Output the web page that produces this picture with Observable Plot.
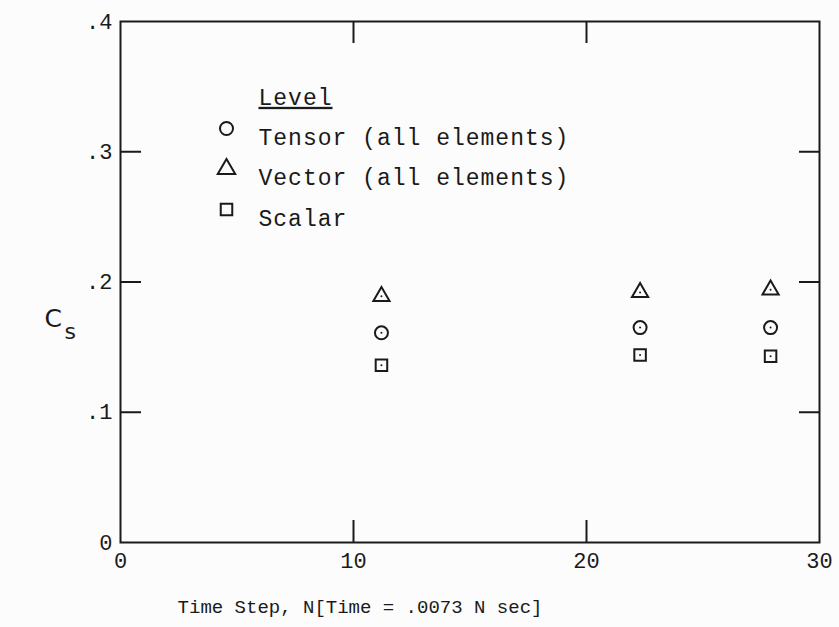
<!DOCTYPE html>
<html>
<head>
<meta charset="utf-8">
<script src="https://cdn.jsdelivr.net/npm/d3@7"></script>
<script src="https://cdn.jsdelivr.net/npm/@observablehq/plot@0.6"></script>
<style>
  html, body { margin: 0; padding: 0; background: #fcfcfc; }
  #chart svg { display: block; }
</style>
</head>
<body>
<div id="chart"></div>
<script>
// Time step N for each sample
const steps = [11.2, 22.3, 27.9];
// C_s values per level
const tensor = [0.161, 0.165, 0.165];
const vector = [0.189, 0.192, 0.194];
const scalar = [0.136, 0.144, 0.143];
// axis ticks
const xTicks = [0, 10, 20, 30];
const yTicks = [0, 0.1, 0.2, 0.3, 0.4];
const yTickLabels = ["0", ".1", ".2", ".3", ".4"];
const innerXTicks = [10, 20];
const innerYTicks = [0.1, 0.2, 0.3];
// legend
const legendTitle = "Level";
const legendItems = ["Tensor (all elements)", "Vector (all elements)", "Scalar"];
const legendSymbols = ["circle", "triangle", "square"];
const xTitle = "Time Step, N[Time = .0073 N sec]";

const tensorData = steps.map((n, i) => ({n, v: tensor[i]}));
const vectorData = steps.map((n, i) => ({n, v: vector[i]}));
const scalarData = steps.map((n, i) => ({n, v: scalar[i]}));
const allData = [...tensorData, ...vectorData, ...scalarData];

const font = "'Liberation Mono', 'DejaVu Sans Mono', monospace";
const ink = "#1a1a1a";

const legendMarks = legendItems.flatMap((label, i) => [
  Plot.dot([legendSymbols[i]], {frameAnchor: "top-left", dx: 106, dy: 107 + 40.5 * i, symbol: d => d, r: 6.5, stroke: ink, strokeWidth: 2, fill: "none"}),
  Plot.text([label], {frameAnchor: "top-left", dx: 138, dy: 107 + 40.5 * i, text: d => d, textAnchor: "start", fontSize: 23, fill: ink, fontFamily: font, className: "legend-text"})
]);

const chart = Plot.plot({
  width: 839,
  height: 627,
  marginLeft: 120,
  marginRight: 20,
  marginTop: 21,
  marginBottom: 85,
  style: {background: "#fcfcfc", fontFamily: font, color: ink},
  x: {domain: [0, 30], label: null},
  y: {domain: [0, 0.4], label: null},
  marks: [
    Plot.frame({stroke: ink, strokeWidth: 2}),
    // inward ticks
    Plot.axisY(innerYTicks, {anchor: "left", tickSize: -21, tickPadding: 0, tickFormat: () => "", stroke: ink, strokeWidth: 2, label: null}),
    Plot.axisY(innerYTicks, {anchor: "right", tickSize: -21, tickPadding: 0, tickFormat: () => "", stroke: ink, strokeWidth: 2, label: null}),
    Plot.axisX(innerXTicks, {anchor: "bottom", tickSize: -22, tickPadding: 0, tickFormat: () => "", stroke: ink, strokeWidth: 2, label: null}),
    Plot.axisX(innerXTicks, {anchor: "top", tickSize: -21, tickPadding: 0, tickFormat: () => "", stroke: ink, strokeWidth: 2, label: null}),
    // tick labels
    Plot.axisY(yTicks, {anchor: "left", tickSize: 0, tickPadding: 8, tickFormat: (d, i) => yTickLabels[i], fontSize: 22, fill: ink, label: null}),
    Plot.axisX(xTicks, {anchor: "bottom", tickSize: 0, tickPadding: 10, fontSize: 22, fill: ink, label: null}),
    // axis titles
    Plot.text([xTitle], {frameAnchor: "bottom", dx: -110, dy: 70, text: d => d, fontSize: 19, fill: ink, fontFamily: font}),
    Plot.text(["C"], {frameAnchor: "left", dx: -76, dy: 37, text: d => d, fontSize: 25, fill: ink, fontFamily: "'DejaVu Sans', sans-serif"}),
    Plot.text(["s"], {frameAnchor: "left", dx: -56, dy: 50, text: d => d, fontSize: 22, fill: ink, fontFamily: "'DejaVu Sans', sans-serif"}),
    // data
    Plot.dot(tensorData, {x: "n", y: "v", symbol: "circle", r: 6.5, stroke: ink, strokeWidth: 2, fill: "none"}),
    Plot.dot(vectorData, {x: "n", y: "v", symbol: "triangle", r: 6, stroke: ink, strokeWidth: 2, fill: "none"}),
    Plot.dot(scalarData, {x: "n", y: "v", symbol: "square", r: 6.5, stroke: ink, strokeWidth: 2, fill: "none"}),
    Plot.dot(allData, {x: "n", y: "v", r: 1, fill: ink}),
    // legend
    Plot.text([legendTitle], {frameAnchor: "top-left", dx: 138, dy: 67, text: d => d, textAnchor: "start", fontSize: 23, fill: ink, fontFamily: font, className: "legend-title"}),
    ...legendMarks
  ]
});

// typewriter spacing and underline on the legend
d3.select(chart).selectAll(".legend-text text, .legend-title text")
  .attr("letter-spacing", "1px");
d3.select(chart).selectAll(".legend-title text")
  .style("text-decoration", "underline");

document.getElementById("chart").appendChild(chart);
</script>
</body>
</html>
